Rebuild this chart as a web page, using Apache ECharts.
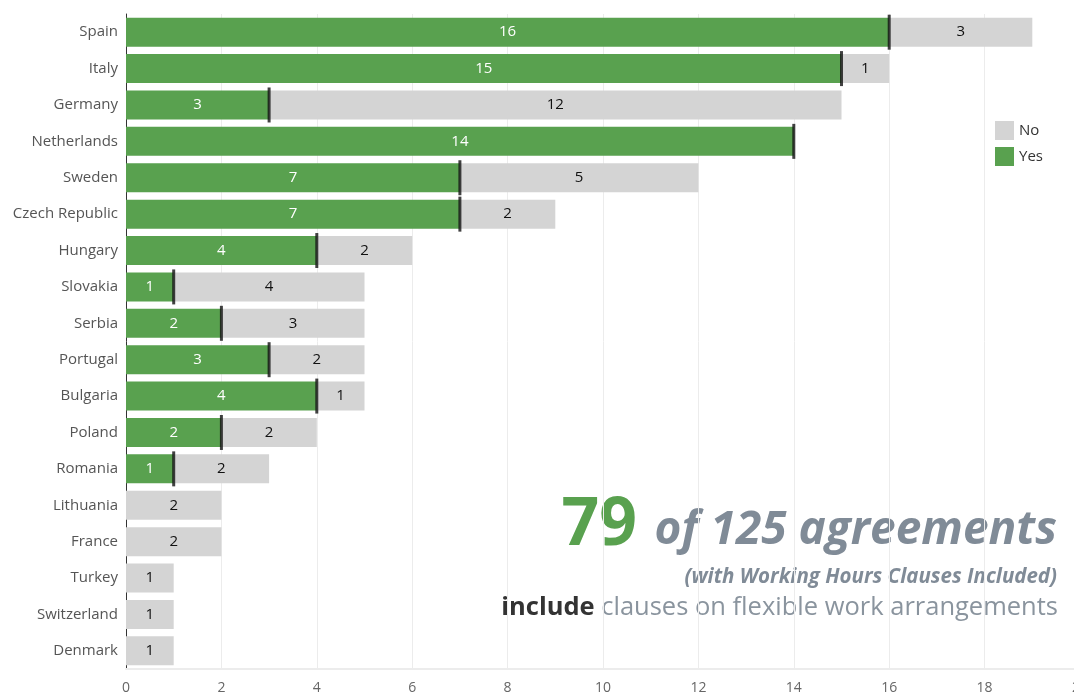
<!DOCTYPE html>
<html>
<head>
<meta charset="utf-8">
<script src="https://cdn.jsdelivr.net/npm/echarts@6/dist/echarts.min.js"></script>
<style>
  html, body { margin: 0; padding: 0; background: #fff; }
  #chart { width: 1074px; height: 698px; }
</style>
</head>
<body>
<div id="chart"></div>
<script>
// Agreements per country, split by whether they include flexible-work clauses
const countries = ['Spain', 'Italy', 'Germany', 'Netherlands', 'Sweden', 'Czech Republic',
  'Hungary', 'Slovakia', 'Serbia', 'Portugal', 'Bulgaria', 'Poland', 'Romania',
  'Lithuania', 'France', 'Turkey', 'Switzerland', 'Denmark'];
const yesCounts = [16, 15, 3, 14, 7, 7, 4, 1, 2, 3, 4, 2, 1, 0, 0, 0, 0, 0];
const noCounts  = [3, 1, 12, 0, 5, 2, 2, 4, 3, 2, 1, 2, 2, 2, 2, 1, 1, 1];
const xTicks = [0, 2, 4, 6, 8, 10, 12, 14, 16, 18, 20];

const yesTotal = yesCounts.reduce((a, b) => a + b, 0);
const allTotal = yesTotal + noCounts.reduce((a, b) => a + b, 0);

const GREEN = '#59a14f';
const GREY = '#d4d4d4';
const FONT = '"Open Sans", "Noto Sans", sans-serif';

const chart = echarts.init(document.getElementById('chart'), null, { renderer: 'canvas' });

chart.setOption({
  animation: false,
  textStyle: { fontFamily: FONT },
  grid: {
    left: 126, top: 14, width: 954, bottom: 29,
    containLabel: false,
    outerBoundsMode: 'none'
  },
  legend: {
    data: ['No', 'Yes'],
    orient: 'vertical',
    left: 990,
    top: 116,
    itemWidth: 19,
    itemHeight: 19,
    itemGap: 7,
    icon: 'rect',
    textStyle: { fontSize: 15, color: '#333', fontFamily: FONT }
  },
  xAxis: {
    type: 'value',
    min: xTicks[0],
    max: xTicks[xTicks.length - 1],
    interval: 2,
    axisLine: { show: true, lineStyle: { color: '#ececec', width: 2 } },
    axisTick: { show: false },
    splitLine: { show: true, lineStyle: { color: '#ececec', width: 1 } },
    axisLabel: { fontSize: 14, color: '#666', margin: 12, fontFamily: FONT }
  },
  yAxis: {
    type: 'category',
    data: countries,
    inverse: true,
    axisLine: { show: true, lineStyle: { color: '#333', width: 1 } },
    axisTick: { show: false },
    splitLine: { show: false },
    axisLabel: { fontSize: 15, color: '#555', margin: 8, fontFamily: FONT }
  },
  series: [
    {
      name: 'Yes',
      type: 'bar',
      stack: 'total',
      barWidth: 29,
      itemStyle: { color: GREEN },
      label: {
        show: true,
        position: 'inside',
        color: '#fff',
        fontSize: 15,
        fontFamily: FONT,
        formatter: p => (p.value > 0 ? p.value : '')
      },
      data: yesCounts
    },
    {
      name: 'No',
      type: 'bar',
      stack: 'total',
      barWidth: 29,
      itemStyle: { color: GREY },
      label: {
        show: true,
        position: 'inside',
        color: '#111',
        fontSize: 15,
        fontFamily: FONT,
        formatter: p => (p.value > 0 ? p.value : '')
      },
      data: noCounts
    },
    {
      // black tick marking the end of each "Yes" segment
      name: 'marker',
      type: 'scatter',
      symbol: 'rect',
      symbolSize: [3, 35],
      itemStyle: { color: '#111' },
      z: 5,
      silent: true,
      data: countries.map((c, i) => [yesCounts[i], c]).filter(d => d[0] > 0)
    }
  ],
  graphic: [
    {
      type: 'text',
      right: 437,
      top: 493,
      style: {
        text: String(yesTotal),
        font: 'bold 66px ' + FONT,
        fill: GREEN
      }
    },
    {
      type: 'text',
      right: 17,
      top: 508,
      style: {
        text: 'of ' + allTotal + ' agreements',
        font: 'italic bold 46px ' + FONT,
        fill: '#808b97'
      }
    },
    {
      type: 'text',
      right: 17,
      top: 567,
      style: {
        text: '(with Working Hours Clauses Included)',
        font: 'italic bold 20.5px ' + FONT,
        fill: '#808b97'
      }
    },
    {
      type: 'text',
      right: 16,
      top: 595,
      style: {
        rich: {
          b: { font: 'bold 25.5px ' + FONT, fill: '#333' },
          r: { font: '25.5px ' + FONT, fill: '#8a949e' }
        },
        text: '{b|include}{r| clauses on flexible work arrangements}'
      }
    }
  ]
});
</script>
</body>
</html>
